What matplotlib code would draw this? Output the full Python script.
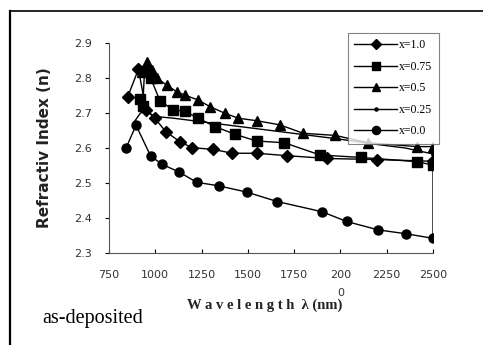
import matplotlib.pyplot as plt
from matplotlib.lines import Line2D

# wavelength (nm) / refractive index
wl_10 = [851, 909, 950, 998, 1056, 1133, 1197, 1313, 1416, 1547, 1713, 1929, 2196, 2500]
n_10 = [2.746, 2.825, 2.709, 2.685, 2.647, 2.618, 2.601, 2.596, 2.585, 2.585, 2.578, 2.570, 2.567, 2.562]

wl_075 = [918, 932, 942, 975, 1025, 1097, 1160, 1232, 1323, 1431, 1547, 1697, 1890, 2111, 2413, 2500]
n_075 = [2.740, 2.720, 2.820, 2.800, 2.735, 2.709, 2.705, 2.685, 2.661, 2.639, 2.620, 2.615, 2.580, 2.573, 2.561, 2.551]

wl_05 = [926, 953, 980, 1007, 1061, 1115, 1160, 1232, 1296, 1377, 1449, 1547, 1674, 1799, 1971, 2151, 2413, 2500]
n_05 = [2.818, 2.847, 2.823, 2.800, 2.780, 2.761, 2.751, 2.737, 2.718, 2.699, 2.685, 2.678, 2.666, 2.642, 2.636, 2.615, 2.604, 2.604]

wl_025 = [880, 920, 950, 1000, 1100, 1250, 1400, 1550, 1700, 1850, 2000, 2200, 2350, 2500]
n_025 = [2.670, 2.700, 2.705, 2.690, 2.685, 2.675, 2.665, 2.655, 2.645, 2.635, 2.625, 2.610, 2.600, 2.583]

wl_00 = [842, 896, 975, 1038, 1126, 1224, 1342, 1494, 1659, 1900, 2034, 2204, 2354, 2500, 2500]
n_00 = [2.600, 2.665, 2.577, 2.553, 2.532, 2.502, 2.492, 2.474, 2.447, 2.418, 2.390, 2.366, 2.355, 2.342, 2.555]

labels = ['x=1.0', 'x=0.75', 'x=0.5', 'x=0.25', 'x=0.0']
xticks = [750, 1000, 1250, 1500, 1750, 2000, 2250, 2500]
xtick_labels = ['750', '1000', '1250', '1500', '1750', '200\n0', '2250', '2500']
yticks = [2.3, 2.4, 2.5, 2.6, 2.7, 2.8, 2.9]

fig = plt.figure(figsize=(4.83, 3.45), dpi=100)
ax = fig.add_axes([109 / 483, 1 - 253 / 345, 324 / 483, 210 / 345])

kw = dict(color='black', lw=1.0, mec='black', mfc='black')
ax.plot(wl_10, n_10, marker='D', ms=6, label=labels[0], **kw)
ax.plot(wl_075, n_075, marker='s', ms=6.5, label=labels[1], **kw)
ax.plot(wl_05, n_05, marker='^', ms=7, label=labels[2], **kw)
ax.plot(wl_025, n_025, marker='o', ms=2.5, markevery=[len(wl_025) - 1], label=labels[3], **kw)
ax.plot(wl_00, n_00, marker='o', ms=6.5, markevery=list(range(len(wl_00) - 1)), label=labels[4], **kw)

ax.set_xlim(750, 2500)
ax.set_ylim(2.3, 2.9)
ax.set_xticks(xticks)
ax.set_xticklabels(xtick_labels, linespacing=2.1)
ax.set_yticks(yticks)
ax.set_yticklabels(['%.1f' % v for v in yticks])
ax.tick_params(axis='x', direction='in', length=3, labelsize=8, labelcolor='#333333', pad=12)
ax.tick_params(axis='y', direction='out', length=3, labelsize=8, labelcolor='#333333', pad=9)
for lab in ax.get_xticklabels():
    lab.set_multialignment('center')
ax.spines['top'].set_visible(False)
ax.spines['right'].set_visible(False)
ax.spines['left'].set_color('#555555')
ax.spines['bottom'].set_color('#555555')
ax.spines['left'].set_linewidth(0.8)
ax.spines['bottom'].set_linewidth(0.8)

ax.set_ylabel('Refractiv Index (n)', fontsize=11, fontweight='bold', color='#222222')
ax.yaxis.set_label_coords((52 - 109) / 324, (253 - 148) / 210)
fig.text(265 / 483, 1 - 305 / 345, 'W a v e l e n g t h  λ (nm)', family='Liberation Serif',
         fontweight='bold', fontsize=10.5, ha='center', va='center', color='#222222')
fig.text(42 / 483, 1 - 319 / 345, 'as-deposited', family='Liberation Serif',
         fontsize=14.5, ha='left', va='center')

leg = ax.legend(loc='upper left', bbox_to_anchor=(348 / 483, 1 - 33 / 345),
                bbox_transform=fig.transFigure, frameon=True, fancybox=False,
                prop={'family': 'Liberation Serif', 'size': 8.5},
                handlelength=3.6, handletextpad=0.2, labelspacing=0.8,
                borderpad=0.55, borderaxespad=0, markerscale=0.9)
leg.get_frame().set_edgecolor('#666666')
leg.get_frame().set_linewidth(0.8)

# outer frame of the figure panel
fig.add_artist(Line2D([10 / 483, 10 / 483], [0, 1 - 11 / 345], color='black', lw=1.6))
fig.add_artist(Line2D([10 / 483, 1], [1 - 11 / 345, 1 - 11 / 345], color='black', lw=1.2))

fig.savefig('out.png', dpi=100)
